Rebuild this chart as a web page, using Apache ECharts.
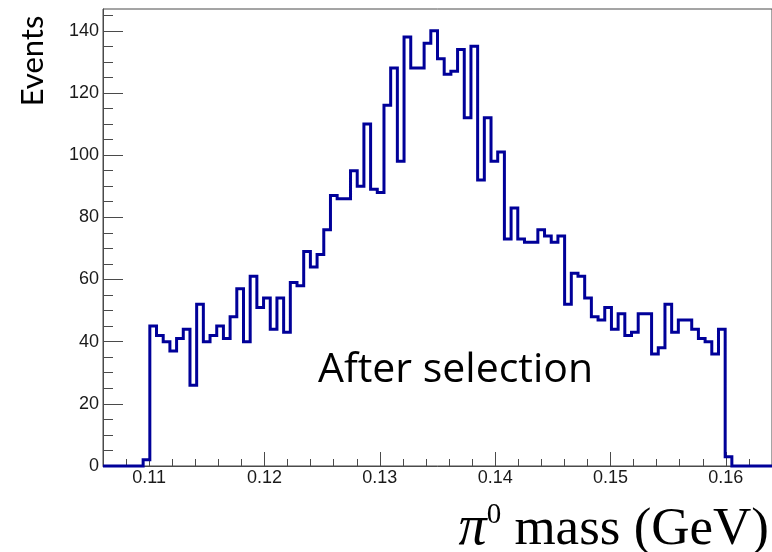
<!DOCTYPE html>
<html>
<head>
<meta charset="utf-8">
<script src="https://cdn.jsdelivr.net/npm/echarts@6/dist/echarts.min.js"></script>
<style>
  html, body { margin: 0; padding: 0; background: #fff; }
  #chart { width: 772px; height: 552px; }
</style>
</head>
<body>
<div id="chart"></div>
<script>
// histogram binning: 100 bins from 0.106 to 0.164 GeV
const histMin = 0.106;
const histMax = 0.164;
const binWidth = 0.00058;

// events per bin
const counts = [
  0, 0, 0, 0, 0, 0,
  2, 45, 42, 40, 37, 41, 44, 26, 52, 40,
  42, 45, 41, 48, 57, 40, 61, 51, 54, 44,
  54, 43, 59, 58, 69, 64, 68, 76, 87, 86,
  86, 95, 90, 110, 89, 88, 116, 128, 98, 138,
  128, 128, 136, 140, 131, 126, 127, 134, 112, 135,
  92, 112, 98, 101, 73, 83, 73, 72, 72, 76,
  74, 72, 74, 52, 62, 61, 54, 48, 47, 51,
  44, 49, 42, 43, 49, 49, 36, 38, 52, 43,
  47, 47, 44, 41, 40, 36, 44, 3,
  0, 0, 0, 0, 0, 0
];

const xLabels = [0.11, 0.12, 0.13, 0.14, 0.15, 0.16];
const xMinor = [0.108, 0.110, 0.112, 0.114, 0.116, 0.118, 0.120, 0.122, 0.124, 0.126,
  0.128, 0.130, 0.132, 0.134, 0.136, 0.138, 0.140, 0.142, 0.144, 0.146,
  0.148, 0.150, 0.152, 0.154, 0.156, 0.158, 0.160, 0.162, 0.164];
const yLabels = [0, 20, 40, 60, 80, 100, 120, 140];
const yMinor = [0, 5, 10, 15, 20, 25, 30, 35, 40, 45, 50, 55, 60, 65, 70, 75,
  80, 85, 90, 95, 100, 105, 110, 115, 120, 125, 130, 135, 140, 145];
const yMax = 147;

// outline points of the histogram
const outline = [];
counts.forEach((c, i) => {
  const lo = histMin + i * binWidth;
  outline.push([lo, c]);
  outline.push([lo + binWidth, c]);
});

const axisColor = '#4a4a4a';
const labelStyle = { color: '#1a1a1a', fontSize: 18, fontFamily: 'Liberation Sans, Arial, sans-serif' };

const chart = echarts.init(document.getElementById('chart'), null, { renderer: 'canvas' });
chart.setOption({
  animation: false,
  backgroundColor: '#fff',
  grid: {
    left: 103, right: -5, top: 9, bottom: 86,
    show: true, borderColor: axisColor, borderWidth: 1, backgroundColor: 'transparent'
  },
  xAxis: [{
    type: 'value', min: histMin, max: histMax, position: 'bottom',
    axisLine: { show: true, onZero: false, lineStyle: { color: axisColor, width: 1 } },
    axisTick: { show: true, inside: true, length: 14, customValues: xLabels, lineStyle: { color: axisColor } },
    axisLabel: { show: true, customValues: xLabels, margin: 3, ...labelStyle,
      formatter: v => v.toFixed(2) },
    splitLine: { show: false }
  }, {
    type: 'value', min: histMin, max: histMax, position: 'bottom',
    axisLine: { show: false },
    axisTick: { show: true, inside: true, length: 7, customValues: xMinor, lineStyle: { color: axisColor } },
    axisLabel: { show: false },
    splitLine: { show: false }
  }],
  yAxis: [{
    type: 'value', min: 0, max: yMax, position: 'left',
    axisLine: { show: true, onZero: false, lineStyle: { color: axisColor, width: 1 } },
    axisTick: { show: true, inside: true, length: 20, customValues: yLabels, lineStyle: { color: axisColor } },
    axisLabel: { show: true, customValues: yLabels, margin: 4, ...labelStyle },
    splitLine: { show: false }
  }, {
    type: 'value', min: 0, max: yMax, position: 'left',
    axisLine: { show: false },
    axisTick: { show: true, inside: true, length: 10, customValues: yMinor, lineStyle: { color: axisColor } },
    axisLabel: { show: false },
    splitLine: { show: false }
  }],
  series: [{
    type: 'line',
    data: outline,
    xAxisIndex: 0, yAxisIndex: 0,
    showSymbol: false, symbol: 'none',
    clip: false,
    lineStyle: { color: '#000099', width: 3, join: 'miter' },
    z: 5
  }],
  graphic: [
    {
      type: 'text', x: 33, y: 61, rotation: Math.PI / 2,
      style: { text: 'Events', fill: '#000', font: '31px Lato, "Noto Sans", sans-serif',
        align: 'center', verticalAlign: 'middle' }
    },
    {
      type: 'text', x: 318, y: 370,
      style: { text: 'After selection', fill: '#000', font: '41px "Open Sans", Lato, sans-serif',
        align: 'left', verticalAlign: 'middle' }
    },
    {
      type: 'text', x: 769, y: 529,
      style: {
        text: '{pi|π}{sup|0}{t| mass (GeV)}',
        align: 'right', verticalAlign: 'middle',
        rich: {
          pi: { font: 'italic 56px "Liberation Serif", "DejaVu Serif", serif', fill: '#000', verticalAlign: 'bottom' },
          sup: { font: '29px "Liberation Serif", serif', fill: '#000', verticalAlign: 'top' },
          t: { font: '53px "Liberation Serif", "DejaVu Serif", serif', fill: '#000', verticalAlign: 'bottom' }
        }
      }
    }
  ]
});
</script>
</body>
</html>
